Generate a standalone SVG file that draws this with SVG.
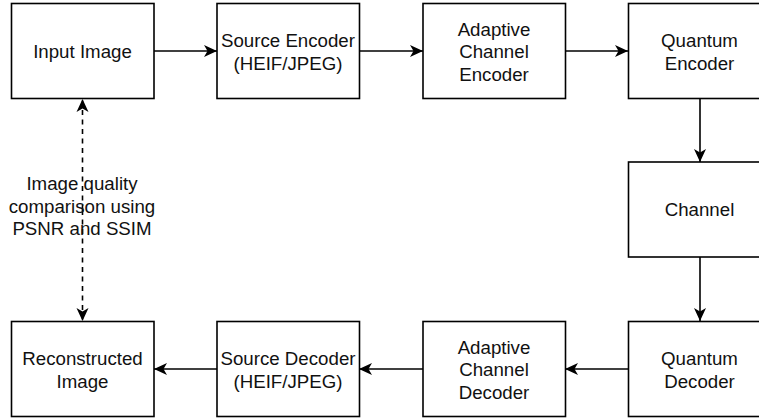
<svg xmlns="http://www.w3.org/2000/svg" width="759" height="419" viewBox="0 0 759 419">
<defs>
<marker id="ah" markerWidth="15" markerHeight="13" viewBox="0 0 15 13" refX="14" refY="6.5" orient="auto" markerUnits="userSpaceOnUse">
<path d="M14,6.5 L1,0.5 L4.5,6.5 L1,12.5 Z" fill="#000"/>
</marker>
</defs>
<style>
.box{fill:#fff;stroke:#000;stroke-width:1.6}
.t{font-family:"Liberation Sans",Arial,sans-serif;font-size:18.7px;fill:#111;text-anchor:middle}
.c{fill:none;stroke:#000;stroke-width:1.6}
.d{fill:none;stroke:#000;stroke-width:1.6;stroke-dasharray:5 4.5}
</style>
<rect width="759" height="419" fill="#fff"/>
<g id="connectors">
<line class="c" x1="154" y1="51" x2="217" y2="51" marker-end="url(#ah)"/>
<line class="c" x1="359" y1="51" x2="423" y2="51" marker-end="url(#ah)"/>
<line class="c" x1="565" y1="51" x2="628" y2="51" marker-end="url(#ah)"/>
<line class="c" x1="700" y1="98.5" x2="700" y2="162" marker-end="url(#ah)"/>
<line class="c" x1="700" y1="257" x2="700" y2="321" marker-end="url(#ah)"/>
<line class="c" x1="628" y1="369" x2="565" y2="369" marker-end="url(#ah)"/>
<line class="c" x1="423" y1="369" x2="359" y2="369" marker-end="url(#ah)"/>
<line class="c" x1="217" y1="369" x2="154" y2="369" marker-end="url(#ah)"/>
<line class="d" x1="82.5" y1="210" x2="82.5" y2="99" marker-end="url(#ah)"/>
<line class="d" x1="82.5" y1="210" x2="82.5" y2="321" marker-end="url(#ah)"/>
<text class="t" x="82" y="190">Image quality</text>
<text class="t" x="82" y="212.5">comparison using</text>
<text class="t" x="82" y="235">PSNR and SSIM</text>
</g>
<g id="input-image"><rect class="box" x="11.5" y="3.5" width="142.5" height="95"/><text class="t" x="82.5" y="57.5">Input Image</text></g>
<g id="source-encoder"><rect class="box" x="217" y="3.5" width="142.5" height="95"/><text class="t" x="288" y="47">Source Encoder</text><text class="t" x="288" y="69.5">(HEIF/JPEG)</text></g>
<g id="adaptive-channel-encoder"><rect class="box" x="423" y="3.5" width="142.5" height="95"/><text class="t" x="494" y="35.5">Adaptive</text><text class="t" x="494" y="58">Channel</text><text class="t" x="494" y="80.5">Encoder</text></g>
<g id="quantum-encoder"><rect class="box" x="628.5" y="3.5" width="142.5" height="95"/><text class="t" x="699.5" y="47">Quantum</text><text class="t" x="699.5" y="69.5">Encoder</text></g>
<g id="channel"><rect class="box" x="628.5" y="162" width="142.5" height="95"/><text class="t" x="699.5" y="216">Channel</text></g>
<g id="quantum-decoder"><rect class="box" x="628.5" y="321.5" width="142.5" height="95"/><text class="t" x="699.5" y="365">Quantum</text><text class="t" x="699.5" y="387.5">Decoder</text></g>
<g id="adaptive-channel-decoder"><rect class="box" x="423" y="321.5" width="142.5" height="95"/><text class="t" x="494" y="353.5">Adaptive</text><text class="t" x="494" y="376">Channel</text><text class="t" x="494" y="398.5">Decoder</text></g>
<g id="source-decoder"><rect class="box" x="217" y="321.5" width="142.5" height="95"/><text class="t" x="288" y="365">Source Decoder</text><text class="t" x="288" y="387.5">(HEIF/JPEG)</text></g>
<g id="reconstructed-image"><rect class="box" x="11.5" y="321.5" width="142.5" height="95"/><text class="t" x="82.5" y="365">Reconstructed</text><text class="t" x="82.5" y="387.5">Image</text></g>
</svg>
